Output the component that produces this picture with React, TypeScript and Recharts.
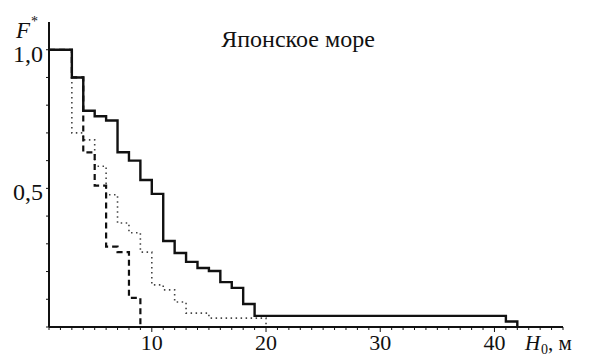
import React from 'react'
import { LineChart, Line, XAxis, YAxis, Customized } from 'recharts'

// H0 (m) break points and F* values
const solidH = [1, 3, 4, 5, 6, 7, 8, 9, 10, 11, 12, 13, 14, 15, 16, 17, 18, 19, 41, 42]
const solidF = [1, 0.9, 0.78, 0.76, 0.745, 0.63, 0.6, 0.53, 0.48, 0.31, 0.267, 0.235, 0.213, 0.202, 0.162, 0.141, 0.083, 0.04, 0.02, 0]

const dottedH = [1, 3, 4, 5, 6, 7, 8, 9, 10, 11, 12, 13, 15, 20]
const dottedF = [1, 0.7, 0.675, 0.58, 0.477, 0.375, 0.34, 0.27, 0.152, 0.134, 0.09, 0.05, 0.032, 0]

const dashedH = [1, 3, 4, 5, 6, 7, 8, 9]
const dashedF = [1, 0.9, 0.63, 0.51, 0.29, 0.27, 0.105, 0]

const xMajor = [10, 20, 30, 40]
const xTicks = Array.from({ length: 46 }, (_, i) => i + 1)
const yTicks = [0, 0.1, 0.2, 0.3, 0.4, 0.5, 0.6, 0.7, 0.8, 0.9, 1.0]
const yLabels: Record<string, string> = { '0.5': '0,5', '1': '1,0' }

const toPoints = (h: number[], f: number[]) => h.map((x, i) => ({ h: x, f: f[i] }))

const FONT = "'Liberation Serif', 'DejaVu Serif', 'Times New Roman', serif"
const INK = '#111'
const txt = { fontFamily: FONT }

const XTick = (props: any) => {
  const { x, y, payload } = props
  const major = xMajor.includes(payload.value)
  return (
    <g>
      <line x1={x} x2={x} y1={y} y2={y + (major ? 5 : 3)} stroke={INK} strokeWidth={1} />
      {major && (
        <text x={x} y={y + 23} textAnchor="middle" fontSize={22} style={txt} fill={INK}>
          {payload.value}
        </text>
      )}
    </g>
  )
}

const YTick = (props: any) => {
  const { x, y, payload } = props
  const label = yLabels[String(payload.value)]
  return (
    <g>
      <line x1={x - 3} x2={x} y1={y} y2={y} stroke={INK} strokeWidth={1} />
      {label && (
        <text x={x - 6} y={y + 12} textAnchor="end" fontSize={24} style={txt} fill={INK}>
          {label}
        </text>
      )}
    </g>
  )
}

const Labels = () => (
  <g style={txt} fill={INK}>
    <text x={298} y={47} textAnchor="middle" fontSize={24} style={txt}>Японское море</text>
    <text x={16} y={38} fontSize={23} fontStyle="italic" style={txt}>F</text>
    <text x={31} y={26} fontSize={14} style={txt}>*</text>
    <text x={525} y={350} fontSize={21} fontStyle="italic" style={txt}>H</text>
    <text x={541} y={354} fontSize={14} style={txt}>0</text>
    <text x={548} y={350} fontSize={21} style={txt}>, м</text>
  </g>
)

export default function App() {
  return (
    <div style={{ position: 'absolute', left: 0, top: 0, width: 591, height: 356, background: '#fff', fontFamily: FONT }}>
      <LineChart width={591} height={356} margin={{ top: 22, right: 28, bottom: 0, left: 0 }} style={txt}>
        <XAxis
          dataKey="h"
          type="number"
          domain={[1, 46]}
          ticks={xTicks}
          interval={0}
          allowDataOverflow
          height={29}
          tickSize={0}
          tickMargin={0}
          tick={<XTick />}
          axisLine={{ stroke: INK, strokeWidth: 2 }}
        />
        <YAxis
          dataKey="f"
          type="number"
          domain={[0, 1.1]}
          ticks={yTicks}
          interval={0}
          width={49}
          tickSize={0}
          tickMargin={0}
          tick={<YTick />}
          axisLine={{ stroke: INK, strokeWidth: 2 }}
        />
        <Line data={toPoints(dottedH, dottedF)} dataKey="f" type="stepAfter" stroke="#444" strokeWidth={1.6}
          strokeDasharray="1.5 3.5" dot={false} isAnimationActive={false} />
        <Line data={toPoints(dashedH, dashedF)} dataKey="f" type="stepAfter" stroke={INK} strokeWidth={2.2}
          strokeDasharray="6 4" dot={false} isAnimationActive={false} />
        <Line data={toPoints(solidH, solidF)} dataKey="f" type="stepAfter" stroke={INK} strokeWidth={2.4}
          dot={false} isAnimationActive={false} />
        <Customized component={Labels} />
      </LineChart>
    </div>
  )
}
